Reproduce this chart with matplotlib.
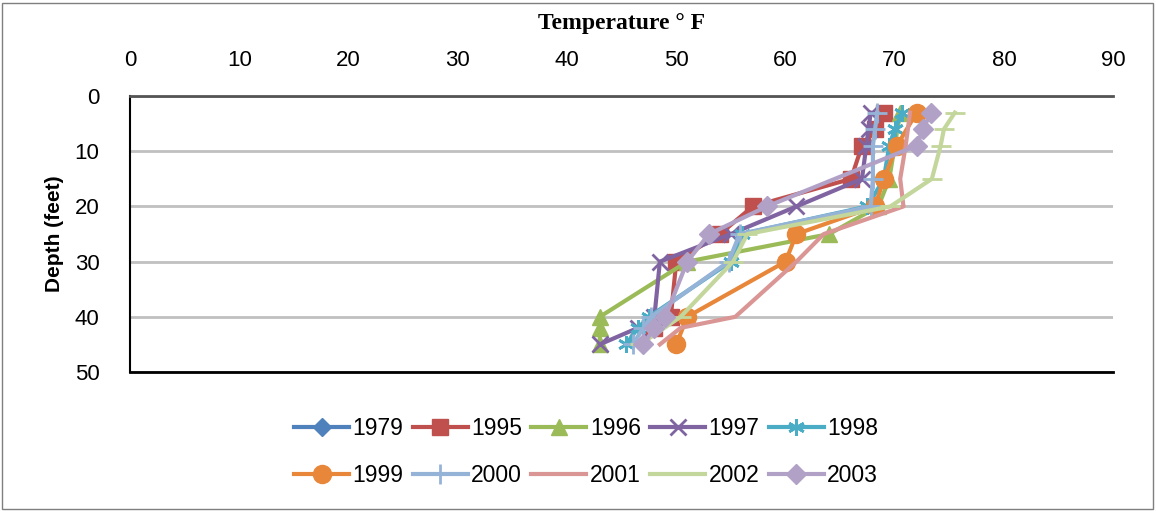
import numpy as np
import matplotlib.pyplot as plt
from matplotlib.patches import Rectangle

plt.rcParams.update({
    "font.family": ["Liberation Sans", "DejaVu Sans"],
    "figure.facecolor": "white",
    "axes.facecolor": "white",
})

# ---------------------------------------------------------------------------
# Data: temperature (deg F) by depth (feet), one profile per year
# ---------------------------------------------------------------------------
years = ["1979", "1995", "1996", "1997", "1998", "1999", "2000", "2001", "2002", "2003"]

depth_1979 = []
temp_1979 = []
depth_1995 = [3, 6, 9, 15, 20, 25, 30, 40, 42]
temp_1995 = [69.0, 68.2, 67.0, 66.0, 57.0, 54.0, 50.0, 49.5, 48.0]
depth_1996 = [3, 9, 15, 20, 25, 30, 40, 42, 45]
temp_1996 = [70.5, 70.0, 69.5, 68.5, 64.0, 51.0, 43.0, 43.0, 43.0]
depth_1997 = [3, 6, 9, 15, 20, 25, 30, 40, 42, 45]
temp_1997 = [67.8, 67.6, 67.4, 67.0, 61.0, 55.0, 48.5, 48.0, 46.5, 43.0]
depth_1998 = [3, 6, 9, 15, 20, 25, 30, 40, 42, 45]
temp_1998 = [70.7, 70.0, 69.5, 69.0, 67.5, 56.0, 55.0, 47.5, 46.5, 45.4]
depth_1999 = [3, 9, 15, 20, 25, 30, 40, 45]
temp_1999 = [72.0, 70.2, 69.0, 68.2, 61.0, 60.0, 51.0, 50.0]
depth_2000 = [3, 6, 9, 15, 20, 25, 30, 40, 42, 45]
temp_2000 = [68.4, 68.2, 68.0, 68.0, 67.8, 55.8, 54.8, 47.7, 47.0, 46.0]
depth_2001 = [3, 9, 15, 20, 25, 30, 40, 42, 45]
temp_2001 = [71.4, 71.0, 70.5, 70.8, 63.5, 61.0, 55.4, 50.4, 48.5]
depth_2002 = [3, 6, 9, 15, 20, 25, 30, 40, 45]
temp_2002 = [75.5, 74.5, 74.2, 73.4, 69.6, 56.5, 55.2, 50.4, 46.7]
depth_2003 = [3, 6, 9, 20, 25, 30, 40, 42, 45]
temp_2003 = [73.3, 72.6, 72.0, 58.3, 53.0, 51.0, 49.0, 48.0, 47.0]

temps = [temp_1979, temp_1995, temp_1996, temp_1997, temp_1998,
         temp_1999, temp_2000, temp_2001, temp_2002, temp_2003]
depths = [depth_1979, depth_1995, depth_1996, depth_1997, depth_1998,
          depth_1999, depth_2000, depth_2001, depth_2002, depth_2003]

colors = ["#4F81BD", "#C0504D", "#9BBB59", "#8064A2", "#4BACC6",
          "#E8873A", "#95B3D7", "#D99694", "#C3D69B", "#B2A1C7"]
markers = ["D", "s", "^", "x", "*", "o", "+", "None", "_", "D"]
msizes = [9, 12, 12, 12, 12, 13, 14, 0, 14, 10]

fig = plt.figure(figsize=(11.56, 5.11), dpi=100)
fig.patches.append(Rectangle((0.002, 0.004), 0.995, 0.99, transform=fig.transFigure,
                             fill=False, edgecolor="#7f7f7f", linewidth=1))
ax = fig.add_axes([0.1125, 0.272, 0.8505, 0.54])

handles = []
for yr, t, d, c, m, ms in zip(years, temps, depths, colors, markers, msizes):
    mew = 2 if m in ("x", "+", "_", "*") else 1
    if m == "*":
        m = (6, 2, 0)  # asterisk-like marker
    h, = ax.plot(t, d, color=c, linewidth=3, marker=m, markersize=ms,
                 markeredgewidth=mew, markeredgecolor=c, label=yr)
    handles.append(h)

ax.set_xlim(0, 90)
ax.set_ylim(50, 0)
ax.set_xticks(np.arange(0, 91, 10))
ax.set_yticks(np.arange(0, 51, 10))
ax.xaxis.tick_top()
ax.xaxis.set_label_position("top")
ax.tick_params(axis="both", length=0, labelsize=16)
ax.tick_params(axis="x", pad=18)
ax.tick_params(axis="y", pad=22)
ax.grid(axis="y", color="#c0c0c0", linewidth=2)
ax.set_axisbelow(True)
ax.spines["right"].set_visible(False)
ax.spines["top"].set_color("#555555")
ax.spines["top"].set_linewidth(2)
ax.spines["left"].set_color("#000000")
ax.spines["left"].set_linewidth(1.5)
ax.spines["bottom"].set_color("#000000")
ax.spines["bottom"].set_linewidth(2)

ax.set_xlabel("Temperature ° F", fontsize=17, fontweight="bold",
              family="Liberation Serif", labelpad=15)
ax.set_ylabel("Depth (feet)", fontsize=15, fontweight="bold", labelpad=8)

# legend fills column-wise, so interleave to get two rows of five
order = [0, 5, 1, 6, 2, 7, 3, 8, 4, 9]
fig.legend([handles[i] for i in order], [years[i] for i in order],
           loc="upper center", bbox_to_anchor=(0.507, 0.225), ncol=5,
           frameon=False, fontsize=16.5, handlelength=2.4, handletextpad=0.15,
           columnspacing=0.4, labelspacing=1.05)

fig.savefig("out.png", dpi=100)
